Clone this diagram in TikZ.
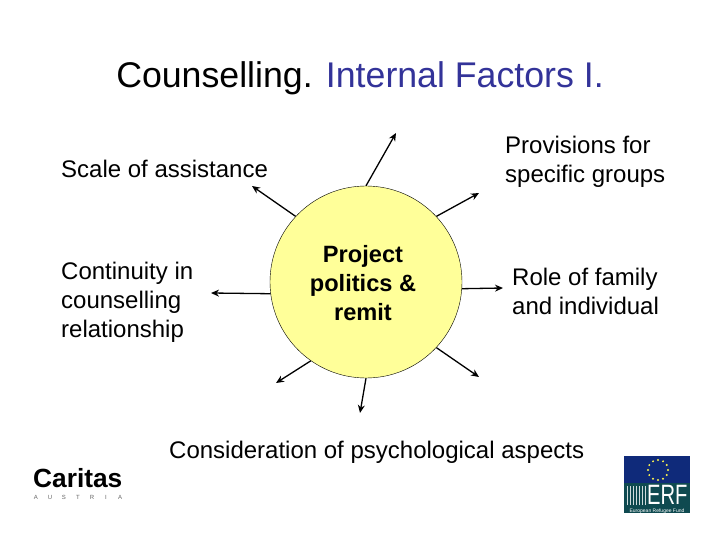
\documentclass[tikz,border=0pt]{standalone}
\usepackage{fontspec}
\setmainfont{Liberation Sans}
\usepackage{tikz}
\usetikzlibrary{arrows.meta}

\definecolor{hubyellow}{HTML}{FFFF99}
\definecolor{titleblue}{HTML}{333399}
\definecolor{erfblue}{HTML}{0F2A7A}
\definecolor{erfgreen}{HTML}{0F4A50}

\tikzset{
  spoke/.style={-{Stealth[length=8pt,width=7pt]},line width=1.3pt,black},
  bodytext/.style={inner sep=0pt,align=left,font=\fontsize{24}{29}\selectfont},
}

\begin{document}
\begin{tikzpicture}[x=1pt,y=-1pt]
        \useasboundingbox (0,0) rectangle (720,540);
        \fill[white] (0,0) rectangle (720,540);
        \node[inner sep=0pt,anchor=base] (title) at (360,88) {\fontsize{35.7}{42}\selectfont Counselling. \textcolor{titleblue}{Internal Factors I.}};
        \node[shape=circle,draw=black,fill=hubyellow,inner sep=0pt,minimum size=192pt] (hub) at (366,282) {};
        \node[inner sep=0pt,align=center,font=\fontsize{23.6}{29}\selectfont\bfseries] (hublabel) at (363,283) {Project\\politics \&\\remit};
        \node[bodytext,anchor=west] (scale) at (61,169) {Scale of assistance};
        \node[bodytext,anchor=west] (continuity) at (61,302) {Continuity in\\counselling\\relationship};
        \node[bodytext,anchor=west] (provisions) at (505,162) {Provisions for\\specific groups};
        \node[bodytext,anchor=west] (family) at (512,291) {Role of family\\and individual};
        \node[bodytext,anchor=west] (psych) at (169,452) {Consideration of psychological aspects};
        \coordinate (endtop) at (396,133);
        \coordinate (endupright) at (479,193);
        \coordinate (endupleft) at (252,186);
        \coordinate (endleft) at (211,293);
        \coordinate (endright) at (503,288);
        \coordinate (enddownright) at (479,377);
        \coordinate (enddownleft) at (276,383);
        \coordinate (enddown) at (360,413);
        \draw[spoke] (hub.90) -- (endtop);
        \draw[spoke] (hub.43) -- (endupright);
        \draw[spoke] (hub.137.5) -- (endupleft);
        \draw[spoke] (hub.187) -- (endleft);
        \draw[spoke] (hub.-4) -- (endright);
        \draw[spoke] (hub.-43) -- (enddownright);
        \draw[spoke] (hub.235.6) -- (enddownleft);
        \draw[spoke] (hub.270) -- (enddown);
        % logo left
        \node[inner sep=0pt,anchor=base west] (caritas) at (33,487.5) {\fontsize{26.3}{28}\selectfont\bfseries Caritas};
        \foreach \ch [count=\i from 0] in {A,U,S,T,R,I,A}
          \node[inner sep=0pt,text=gray!80!black] (austria\i) at (36+\i*14,497.5) {\fontsize{6}{6}\selectfont \ch};
        % logo right
        \fill[erfblue] (624,456) rectangle (690,483);
        \fill[erfgreen] (624,483) rectangle (690,513);
        \foreach \a in {0,30,...,330}
          \fill[yellow!70!white] (658,470) ++(\a:10) circle (1.1);
        \draw[white!80!erfgreen,line width=0.5pt,step=3] (626,486) grid (645,505);
        \node[inner sep=0pt,anchor=base west,text=white,xscale=0.72] (erf) at (647,504.5) {\fontsize{28}{28}\selectfont ERF};
        \node[inner sep=0pt,anchor=base,text=white] (fund) at (657,512) {\fontsize{5}{5}\selectfont European Refugee Fund};
      \end{tikzpicture}
\end{document}
